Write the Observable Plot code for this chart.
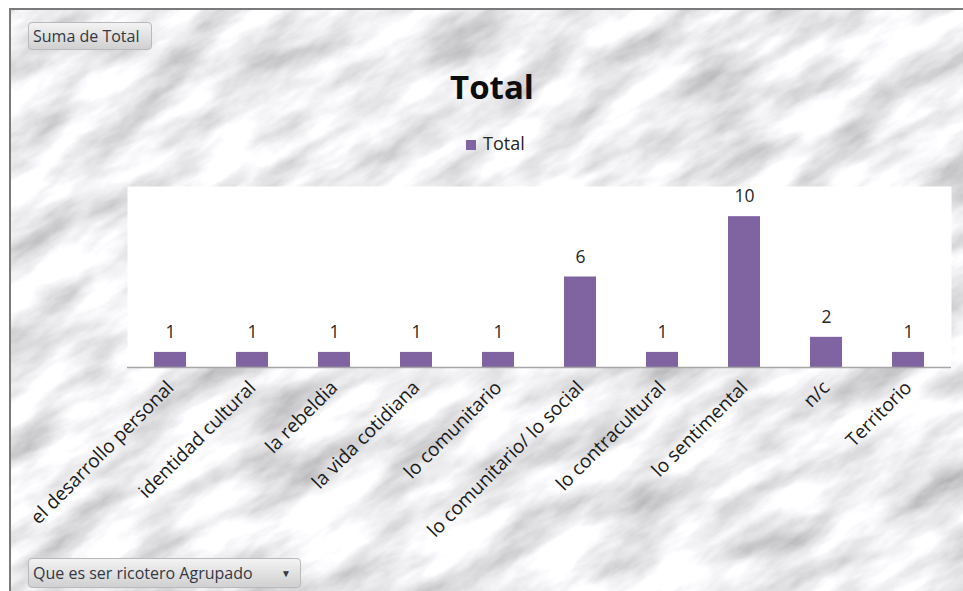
<!DOCTYPE html>
<html>
<head>
<meta charset="utf-8">
<script src="https://cdn.jsdelivr.net/npm/d3@7"></script>
<script src="https://cdn.jsdelivr.net/npm/@observablehq/plot@0.6"></script>
<style>
  html, body { margin: 0; padding: 0; background: #ffffff; }
  #wrap { position: relative; width: 963px; height: 591px; overflow: hidden; font-family: "Open Sans", "Noto Sans", sans-serif; }
  #marble { position: absolute; left: 11px; top: 10px; }
  #topline { position: absolute; left: 9px; top: 8px; width: 954px; height: 2px; background: #7a7a7a; }
  #leftline { position: absolute; left: 9px; top: 8px; width: 2px; height: 583px; background: #7a7a7a; }
  .btn { position: absolute; box-sizing: border-box; border: 1px solid #b9b9b9; border-radius: 4px;
         background: linear-gradient(#f3f3f3, #d0d0d0); color: #333844; font-size: 16px;
         padding-left: 4px; line-height: 26px; }
  #title { position: absolute; left: 0; width: 984px; top: 64px; text-align: center; font-weight: 700; font-size: 33px; color: #0d0d0d; }
  #legend { position: absolute; left: 466px; top: 131px; font-size: 18px; color: #262626; }
  #legend span.sw { display: inline-block; width: 10px; height: 10px; background: #8064a2; margin-right: 7px; }
  #chart { position: absolute; left: 0; top: 170px; }
</style>
</head>
<body>
<div id="wrap">
  <svg id="marble" width="952" height="581">
    <defs>
      <filter id="mf" x="0" y="0" width="100%" height="100%">
        <feTurbulence type="fractalNoise" baseFrequency="0.011 0.03" numOctaves="6" seed="11"/>
        <feColorMatrix type="matrix" values="0.95 0 0 0 0.38  0.95 0 0 0 0.38  0.95 0 0 0 0.40  0 0 0 0 1"/>
      </filter>
    </defs>
    <g transform="rotate(-30 476 290)">
      <rect x="-400" y="-400" width="1800" height="1400" filter="url(#mf)"/>
    </g>
  </svg>
  <div id="topline"></div>
  <div id="leftline"></div>
  <div class="btn" style="left:28px; top:22px; width:124px; height:28px;">Suma de Total</div>
  <div class="btn" style="left:28px; top:558px; width:273px; height:30px; line-height:28px;">Que es ser ricotero Agrupado<span style="position:absolute; right:9px; top:0; font-size:10px;">&#9660;</span></div>
  <div id="title">Total</div>
  <div id="legend"><span class="sw"></span>Total</div>
  <div id="chart"></div>
</div>
<script>
const categories = [
  "el desarrollo personal",
  "identidad cultural",
  "la rebeldia",
  "la vida cotidiana",
  "lo comunitario",
  "lo comunitario/ lo social",
  "lo contracultural",
  "lo sentimental",
  "n/c",
  "Territorio"
];
const totals = [1, 1, 1, 1, 1, 6, 1, 10, 2, 1];

const data = categories.map((c, i) => ({category: c, total: totals[i]}));

const chart = Plot.plot({
  width: 963,
  height: 400,
  marginTop: 16,
  marginLeft: 127,
  marginRight: 12,
  marginBottom: 203,
  style: {background: "transparent", fontFamily: "'Open Sans', 'Noto Sans', sans-serif", fontSize: "19px", color: "#1a1a1a"},
  x: {domain: categories, paddingInner: 0.61, paddingOuter: 0.305, label: null, tickSize: 0, tickRotate: -45, tickPadding: 17},
  y: {domain: [0, 12], axis: null},
  marks: [
    Plot.frame({fill: "white", stroke: "none"}),
    Plot.barY(data, {x: "category", y: "total", fill: "#8064a2"}),
    Plot.ruleY([0], {stroke: "#a6a6a6", strokeWidth: 1.5}),
    Plot.text(data, {x: "category", y: "total", text: d => String(d.total), dy: -20, fontSize: 17.5, fill: "#262626"})
  ]
});
document.getElementById("chart").appendChild(chart);
</script>
</body>
</html>
